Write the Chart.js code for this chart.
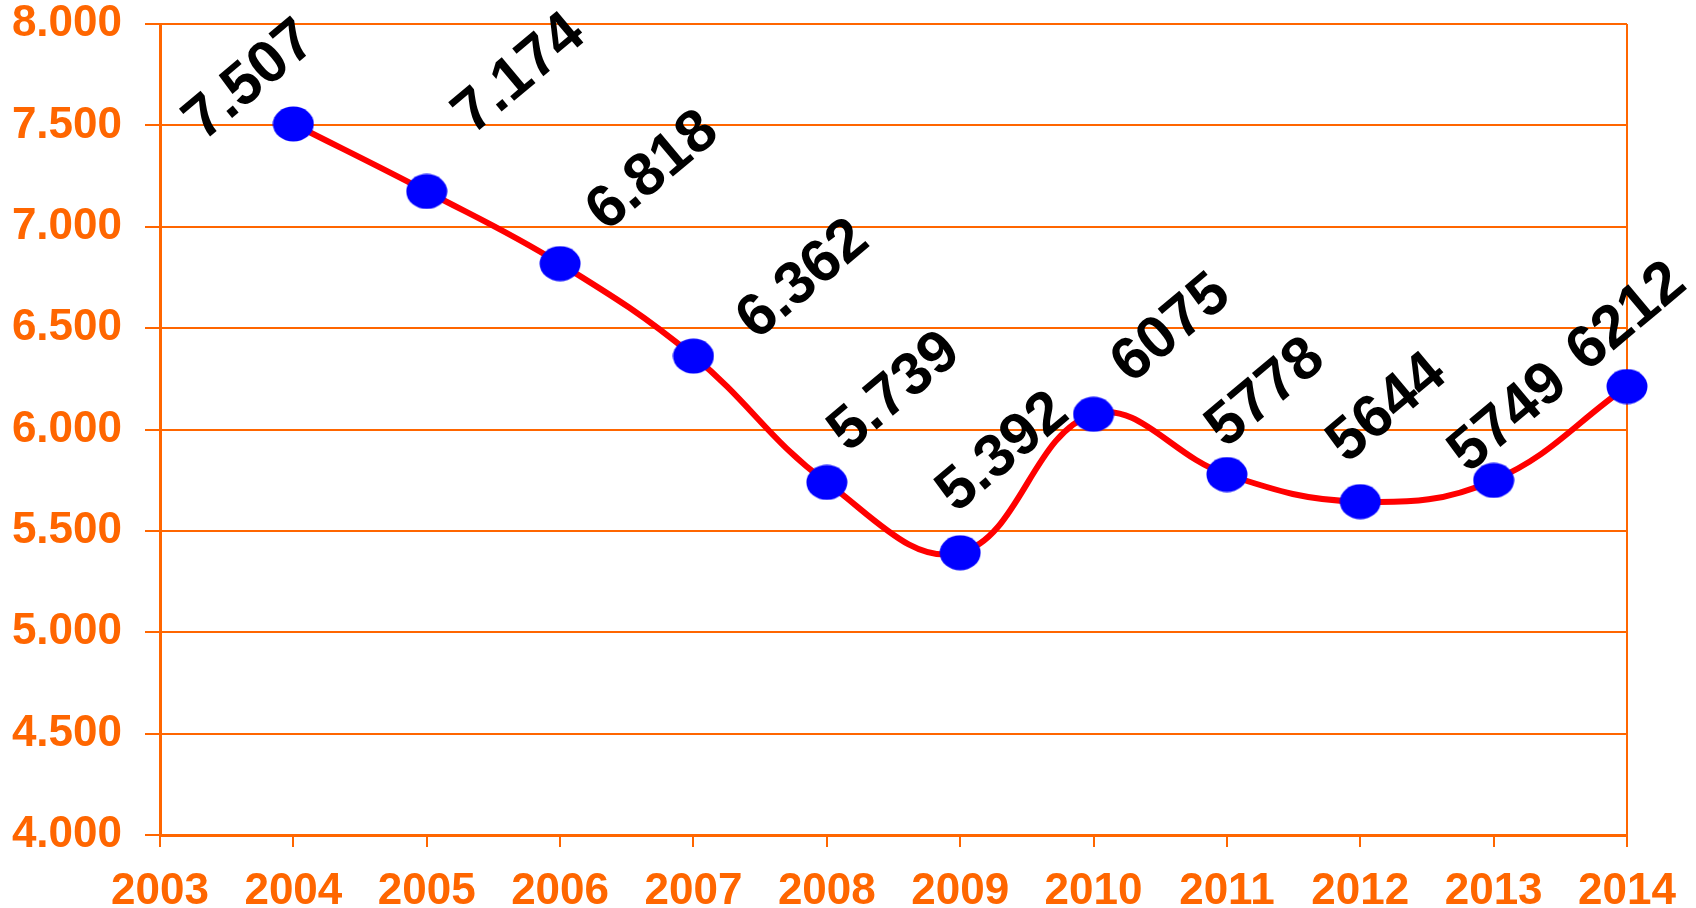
<!DOCTYPE html>
<html>
<head>
<meta charset="utf-8">
<script src="https://cdn.jsdelivr.net/npm/chart.js"></script>
<style>
html, body { margin: 0; padding: 0; background: #fff; }
#wrap { width: 1696px; height: 908px; }
</style>
</head>
<body>
<div id="wrap"><canvas id="line-chart"></canvas></div>
<script>
// 연도 / 값
var years = ['2003', '2004', '2005', '2006', '2007', '2008', '2009', '2010', '2011', '2012', '2013', '2014'];
var values = [null, 7507, 7174, 6818, 6362, 5739, 5392, 6075, 5778, 5644, 5749, 6212];
var valueTexts = ['', '7.507', '7.174', '6.818', '6.362', '5.739', '5.392', '6075', '5778', '5644', '5749', '6212'];
var yMin = 4000, yMax = 8000, yStep = 500;

// label offset from point (px)
var labelShift = [[0, 0], [-43, -43], [93, -117], [93, -92], [110, -76], [68, -90], [43, -100],
                  [78, -85], [39, -81], [27, -93], [15, -62], [0, -69]];

var orange = '#FF6600';
var fontFam = '"Liberation Sans", Arial, sans-serif';

// blue ellipse marker
var dot = document.createElement('canvas');
dot.width = 42; dot.height = 36;
var dctx = dot.getContext('2d');
dctx.fillStyle = '#0000FF';
dctx.beginPath();
dctx.ellipse(21, 18, 20.5, 17.5, 0, 0, Math.PI * 2);
dctx.fill();

var valueLabels = {
  id: 'valueLabels',
  afterDatasetsDraw: function (chart) {
    var ctx = chart.ctx;
    var meta = chart.getDatasetMeta(0);
    ctx.save();
    ctx.font = 'bold 60px ' + fontFam;
    ctx.fillStyle = '#000';
    ctx.textAlign = 'center';
    ctx.textBaseline = 'middle';
    for (var i = 0; i < meta.data.length; i++) {
      if (values[i] == null) continue;
      var p = meta.data[i];
      ctx.save();
      ctx.translate(p.x + labelShift[i][0], p.y + labelShift[i][1]);
      ctx.rotate(-40 * Math.PI / 180);
      ctx.fillText(valueTexts[i], 0, 0);
      ctx.restore();
    }
    ctx.restore();
  }
};

new Chart(document.getElementById('line-chart'), {
  type: 'line',
  data: {
    labels: years,
    datasets: [{
      data: values,
      borderColor: '#FF0000',
      borderWidth: 6,
      tension: 0.4,
      pointStyle: dot,
      pointRadius: 18,
      spanGaps: true
    }]
  },
  options: {
    responsive: true,
    maintainAspectRatio: false,
    animation: false,
    layout: { padding: { top: 23, right: 69, bottom: 0, left: 0 } },
    plugins: { legend: { display: false }, tooltip: { enabled: false } },
    scales: {
      x: {
        offset: false,
        afterFit: function (s) { s.height = 73; },
        grid: {
          color: function (c) { return c.index === years.length - 1 ? orange : 'rgba(0,0,0,0)'; },
          lineWidth: 2,
          tickColor: orange,
          tickLength: 12
        },
        border: { color: orange, width: 3 },
        ticks: {
          color: orange,
          font: { family: fontFam, size: 44, weight: 'bold' },
          padding: 18,
          maxRotation: 0,
          autoSkip: false
        }
      },
      y: {
        min: yMin,
        max: yMax,
        afterFit: function (s) { s.width = 160; s.paddingTop = 0; s.paddingBottom = 0; },
        grid: { color: orange, lineWidth: 2, tickColor: orange, tickLength: 15 },
        border: { color: orange, width: 3 },
        ticks: {
          stepSize: yStep,
          color: orange,
          padding: 23,
          font: { family: fontFam, size: 44, weight: 'bold' },
          callback: function (v) { return (v / 1000).toFixed(3); }
        }
      }
    }
  },
  plugins: [valueLabels]
});
</script>
</body>
</html>
